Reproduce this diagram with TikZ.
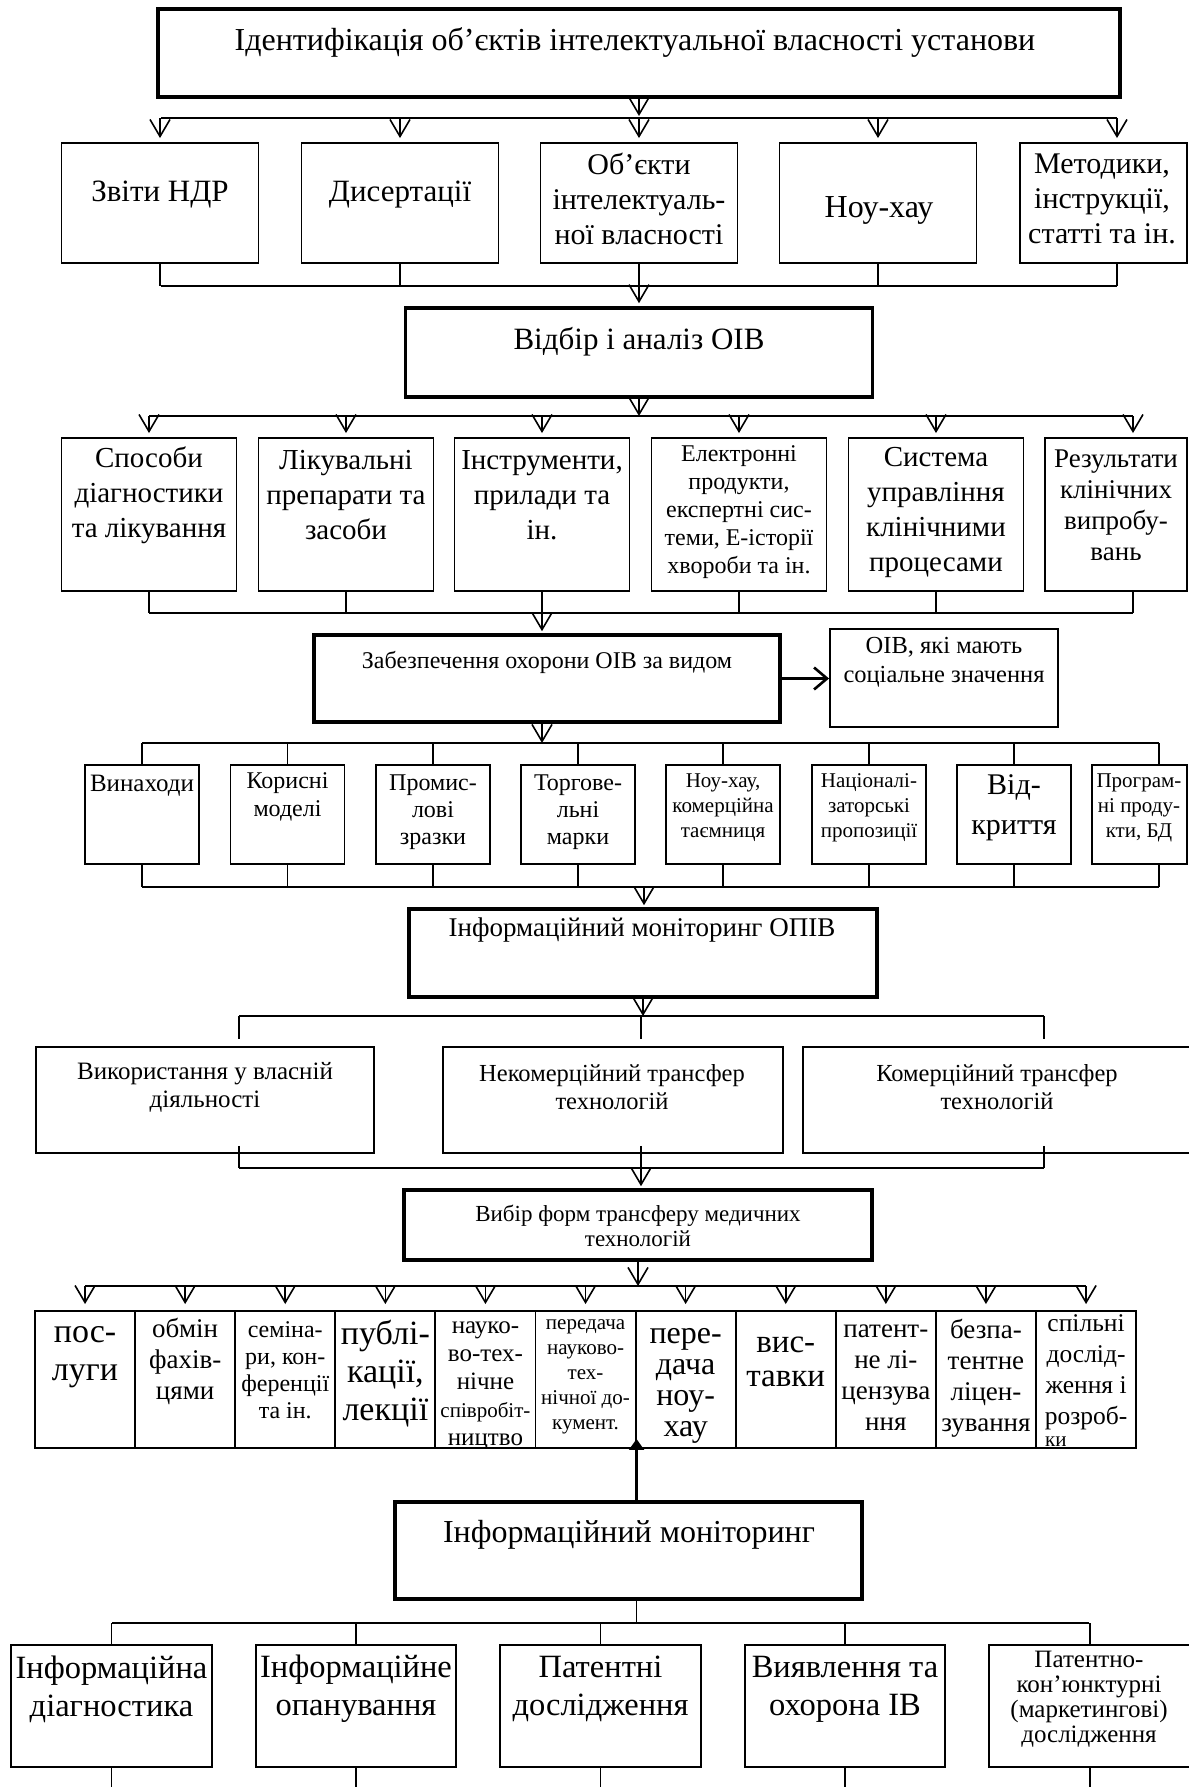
\documentclass[tikz,border=0pt]{standalone}
\usepackage{fontspec}
\setmainfont{Liberation Serif}
\usetikzlibrary{arrows.meta}
\newcommand\fsz[2]{\fontsize{#1}{#2}\selectfont}

\begin{document}
\begin{tikzpicture}[x=1pt,y=-1pt,
 thinbox/.style={draw,line width=1.9pt,inner sep=0pt},
 thickbox/.style={draw,line width=3.6pt,inner sep=0pt},
 txt/.style={align=center,inner sep=0pt},
 ln/.style={line width=1.6pt},
 bus/.style={line width=2.2pt},
 arr/.style={line width=1.6pt,-{Straight Barb[length=17pt,width=20pt]}},
 side/.style={line width=2.6pt,-{Straight Barb[length=13pt,width=22pt]}},
 uparr/.style={line width=2.2pt,-{Triangle[length=11pt,width=15pt]}}]
\useasboundingbox (0,0) rectangle (1188,1787);
% identification and sources
\node[thickbox,minimum width=962,minimum height=88] (ident) at (639,53) {};
\node[txt,font=\fsz{32}{36}] (ident-t) at (635,43) {Ідентифікація об’єктів інтелектуальної власності установи};
\foreach \n/\x in {a/160,b/400,c/639,d/878}
  \node[thinbox,minimum width=197,minimum height=120] (o\n) at (\x,203) {};
\node[thinbox,minimum width=167,minimum height=120] (oe) at (1103.5,203) {};
\node[txt,font=\fsz{31}{35}] (oa-t) at (160,195) {Звіти НДР};
\node[txt,font=\fsz{31}{35}] (ob-t) at (400,195) {Дисертації};
\node[txt,font=\fsz{30}{35}] (oc-t) at (639,199) {Об’єкти\\інтелектуаль-\\ної власності};
\node[txt,font=\fsz{32}{35}] (od-t) at (879,210) {Ноу-хау};
\node[txt,font=\fsz{30}{35}] (oe-t) at (1102,199) {Методики,\\інструкції,\\статті та ін.};
\coordinate (a1) at (161,118); \coordinate (a2) at (1117,118);
\coordinate (a3) at (161,286); \coordinate (a4) at (1117,286);
\draw[arr,shorten >=2pt] (ident.south) -- (ident.south |- a1);
\draw[bus] (a1) -- (a2); \draw[ln] (a3) -- (a4);
\foreach \n in {a,b,c,d}{
  \draw[arr,shorten >=4pt] (o\n.north |- a1) -- (o\n.north);
  \draw[ln] (o\n.south) -- (o\n.south |- a3);}
\draw[arr,shorten >=4pt] (a2) -- (a2 |- oe.north);
\draw[ln] (a2 |- oe.south) -- (a4);
% selection
\node[thickbox,minimum width=467,minimum height=89] (sel) at (639,352.5) {};
\node[txt,font=\fsz{31}{35}] (sel-t) at (639,342) {Відбір і аналіз ОІВ};
\draw[arr,shorten >=3pt] (oc.south |- a3) -- (sel.north);
\foreach \n/\x in {a/149,b/346,c/542,d/739,e/936}
  \node[thinbox,minimum width=175,minimum height=153] (k\n) at (\x,514.5) {};
\node[thinbox,minimum width=142,minimum height=153] (kf) at (1116,514.5) {};
\node[txt,font=\fsz{29}{35}] (ka-t) at (149,495) {Способи\\діагностики\\та лікування};
\node[txt,font=\fsz{29}{35}] (kb-t) at (346,495) {Лікувальні\\препарати та\\засоби};
\node[txt,font=\fsz{29}{35}] (kc-t) at (542,495) {Інструменти,\\прилади та\\ін.};
\node[txt,font=\fsz{24}{28}] (kd-t) at (739,512) {Електронні\\продукти,\\експертні сис-\\теми, Е-історії\\хвороби та ін.};
\node[txt,font=\fsz{29}{35}] (ke-t) at (936,512) {Система\\управління\\клінічними\\процесами};
\node[txt,font=\fsz{27}{31}] (kf-t) at (1116,505) {Результати\\клінічних\\випробу-\\вань};
\coordinate (b1) at (149,416); \coordinate (b2) at (1133,416);
\coordinate (b3) at (149,613); \coordinate (b4) at (1133,613);
\draw[arr] (sel.south) -- (sel.south |- b1);
\draw[bus] (b1) -- (b2); \draw[ln] (b3) -- (b4);
\foreach \n in {a,...,e}{
  \draw[arr,shorten >=4pt] (k\n.north |- b1) -- (k\n.north);
  \draw[ln] (k\n.south) -- (k\n.south |- b3);}
\draw[arr,shorten >=4pt] (b2) -- (b2 |- kf.north);
\draw[ln] (b2 |- kf.south) -- (b4);
% protection
\node[thickbox,minimum width=466,minimum height=87] (prot) at (547,678.5) {};
\node[txt,font=\fsz{24}{28}] (prot-t) at (547,662) {Забезпечення охорони ОІВ за видом};
\node[thinbox,minimum width=228,minimum height=98] (soc) at (944,678) {};
\node[txt,font=\fsz{24.5}{29}] (soc-t) at (944,662.5) {ОІВ, які мають\\соціальне значення};
\draw[arr,shorten >=2pt] (kc.south |- b3) -- (kc.south |- prot.north);
\draw[side] (prot.east) -- (prot.east -| soc.west);
\foreach \n/\x in {a/142,b/287.5,c/433,d/578,e/723,f/869,g/1014}
  \node[thinbox,minimum width=114,minimum height=99] (v\n) at (\x,814.5) {};
\node[thinbox,minimum width=95,minimum height=99] (vh) at (1139.5,814.5) {};
\node[txt,font=\fsz{25}{27}] (va-t) at (142,786) {Винаходи};
\node[txt,font=\fsz{24}{28}] (vb-t) at (287.5,797) {Корисні\\моделі};
\node[txt,font=\fsz{24}{27}] (vc-t) at (433,812) {Промис-\\лові\\зразки};
\node[txt,font=\fsz{24}{27}] (vd-t) at (578,812) {Торгове-\\льні\\марки};
\node[txt,font=\fsz{21}{25}] (ve-t) at (723,808) {Ноу-хау,\\комерційна\\таємниця};
\node[txt,font=\fsz{21}{25}] (vf-t) at (869,808) {Націоналі-\\заторські\\пропозиції};
\node[txt,font=\fsz{30}{40}] (vg-t) at (1014,808) {Від-\\криття};
\node[txt,font=\fsz{21}{25}] (vh-t) at (1139,808) {Програм-\\ні проду-\\кти, БД};
\coordinate (c1) at (142,743); \coordinate (c2) at (1159,743);
\coordinate (c3) at (142,887); \coordinate (c4) at (1159,887); \coordinate (c5) at (644,887);
\draw[arr] (kc.south |- prot.south) -- (kc.south |- c1);
\draw[bus] (c1) -- (c2); \draw[ln] (c3) -- (c4);
\foreach \n in {a,...,g}{
  \draw[ln] (v\n.north |- c1) -- (v\n.north);
  \draw[ln] (v\n.south) -- (v\n.south |- c3);}
\draw[ln] (c2) -- (c2 |- vh.north); \draw[ln] (c2 |- vh.south) -- (c4);
% monitoring and use
\node[thickbox,minimum width=468,minimum height=88] (mon) at (643,953) {};
\node[txt,font=\fsz{27}{32}] (mon-t) at (642,930) {Інформаційний моніторинг ОПІВ};
\draw[arr,shorten >=2pt] (c5) -- (c5 |- mon.north);
\node[thinbox,minimum width=338,minimum height=106] (ua) at (205,1100) {};
\node[thinbox,minimum width=340,minimum height=106] (ub) at (613,1100) {};
\node[thinbox,minimum width=390,minimum height=106] (uc) at (998,1100) {};
\node[txt,font=\fsz{25}{28}] (ua-t) at (205,1087) {Використання у власній\\діяльності};
\node[txt,font=\fsz{24.5}{28}] (ub-t) at (612,1087) {Некомерційний трансфер\\технологій};
\node[txt,font=\fsz{24.5}{28}] (uc-t) at (997,1087) {Комерційний трансфер\\технологій};
\coordinate (d1) at (239,1016); \coordinate (d2) at (641,1016); \coordinate (d3) at (1044,1016);
\coordinate (d4) at (239,1168); \coordinate (d5) at (641,1168); \coordinate (d6) at (1044,1168);
\draw[arr] (mon.south) -- (mon.south |- d1);
\draw[bus] (d1) -- (d3); \draw[ln] (d4) -- (d6);
\foreach \d/\e/\n in {d1/d4/a,d2/d5/b,d3/d6/c}{
  \draw[ln,shorten >=7pt] (\d) -- (\d |- u\n.north);
  \draw[ln,shorten <=-8pt] (\e |- u\n.south) -- (\e);}
% forms of transfer
\node[thickbox,minimum width=468,minimum height=70] (form) at (638,1225) {};
\node[txt,font=\fsz{23}{25}] (form-t) at (638,1225.5) {Вибір форм трансферу медичних\\технологій};
\draw[arr,shorten >=2pt] (d5) -- (d5 |- form.north);
\foreach \n [count=\i from 0] in {a,...,k}
  \node[thinbox,minimum width=100.1,minimum height=137] (p\n) at (85.05+100.1*\i,1379.5) {};
\coordinate (e1) at (85,1286); \coordinate (e2) at (1086,1286);
\draw[arr] (form.south) -- (form.south |- e1);
\draw[bus] (e1) -- (e2);
\foreach \n in {a,...,k}
  \draw[arr,shorten >=6pt] (p\n.north |- e1) -- (p\n.north);
\node[txt,font=\fsz{34}{38}] (pa-t) at (pa |- 0,1357) {пос-\\луги};
\node[txt,font=\fsz{27}{31}] (pb-t) at (pb |- 0,1361) {обмін\\фахів-\\цями};
\node[txt,font=\fsz{24}{27}] (pc-t) at (pc |- 0,1370) {семіна-\\ри, кон-\\ференції\\та ін.};
\node[txt,font=\fsz{34}{38}] (pd-t) at (pd |- 0,1374) {публі-\\кації,\\лекції};
\begin{scope}
\clip (pe.north west) rectangle (pe.south east);
\node[txt,font=\fsz{25}{28}] (pe-t) at (pe |- 0,1386) {науко-\\во-тех-\\нічне\\{\fsz{21}{28}співробіт-}\\ництво};
\end{scope}
\node[txt,font=\fsz{21}{25}] (pf-t) at (pf |- 0,1377) {передача\\науково-\\тех-\\нічної до-\\кумент.};
\node[txt,font=\fsz{32}{31}] (pg-t) at (pg |- 0,1386) {пере-\\дача\\ноу-\\хау};
\node[txt,font=\fsz{33}{34}] (ph-t) at (ph |- 0,1362) {вис-\\тавки};
\node[txt,font=\fsz{27}{31}] (pi-t) at (pi |- 0,1378) {патент-\\не лі-\\цензува\\ння};
\node[txt,font=\fsz{27}{31}] (pj-t) at (pj |- 0,1378) {безпа-\\тентне\\ліцен-\\зування};
\node[txt,font=\fsz{25.5}{31}] (pk-t) at (pk |- 0,1372) {спільні\\дослід-\\ження і\\розроб-};
\begin{scope}
\clip (pk.north west) rectangle (pk.south east);
\node[txt,anchor=west,font=\fsz{21}{22}] (pk-k) at (1045,1442) {ки};
\end{scope}
% information monitoring
\node[thickbox,minimum width=467,minimum height=97] (imon) at (628.5,1550.5) {};
\node[txt,font=\fsz{32}{36}] (imon-t) at (629,1535) {Інформаційний моніторинг};
\draw[uparr] (pf.south east |- imon.north) -- ([yshift=10pt]pf.south east);
\coordinate (f1) at (112,1623); \coordinate (f2) at (1089,1623); \coordinate (bot) at (0,1800);
\draw[ln] (pf.south east |- imon.south) -- (pf.south east |- f1);
\draw[bus] (f1) -- (f2);
\foreach \n/\x/\w in {a/111.5/201,b/356/200,c/600.5/201,d/845/200,e/1090/202}{
  \node[thinbox,minimum width=\w,minimum height=122] (q\n) at (\x,1706) {};
  \draw[ln] (q\n.north |- f1) -- (q\n.north);
  \draw[ln] (q\n.south) -- (q\n.south |- bot);}
\node[txt,font=\fsz{32.5}{38}] (qa-t) at (111.5,1689) {Інформаційна\\діагностика};
\node[txt,font=\fsz{32.5}{38}] (qb-t) at (356,1689) {Інформаційне\\опанування};
\node[txt,font=\fsz{32.5}{38}] (qc-t) at (600.5,1689) {Патентні\\дослідження};
\node[txt,font=\fsz{32.5}{38}] (qd-t) at (845,1689) {Виявлення та\\охорона ІВ};
\node[txt,font=\fsz{25}{25}] (qe-t) at (1089,1699) {Патентно-\\кон’юнктурні\\(маркетингові)\\дослідження};
\end{tikzpicture}
\end{document}
